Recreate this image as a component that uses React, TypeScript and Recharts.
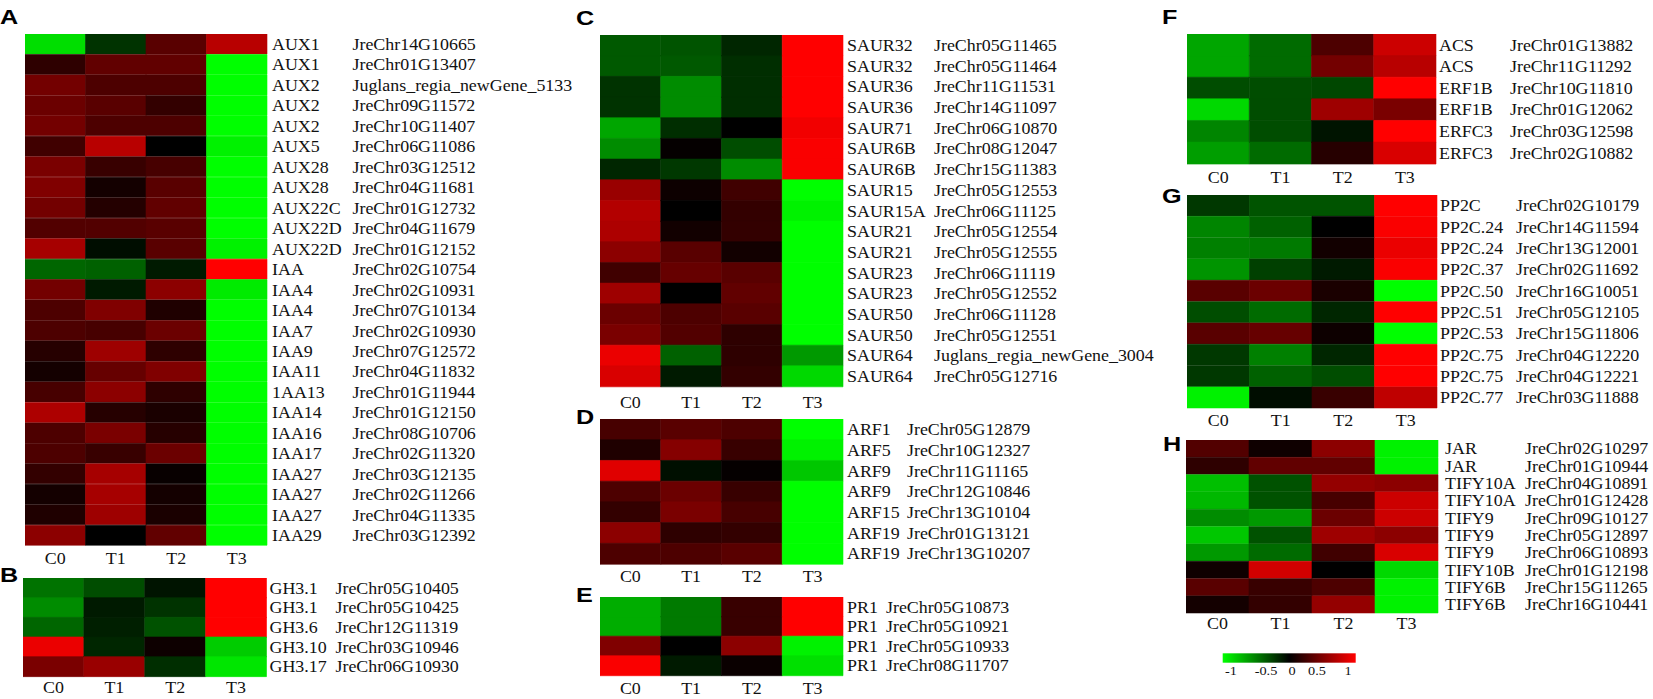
import React from 'react';
import { BarChart, Bar, XAxis, YAxis, Cell } from 'recharts';

const samples = ['C0', 'T1', 'T2', 'T3'];
const legendTicks = ['-1', '-0.5', '0', '0.5', '1'];

// Panel A
const aGenes = ['AUX1','AUX1','AUX2','AUX2','AUX2','AUX5','AUX28','AUX28','AUX22C','AUX22D','AUX22D','IAA','IAA4','IAA4','IAA7','IAA9','IAA11','1AA13','IAA14','IAA16','IAA17','IAA27','IAA27','IAA27','IAA29'];
const aIds = ['JreChr14G10665','JreChr01G13407','Juglans_regia_newGene_5133','JreChr09G11572','JreChr10G11407','JreChr06G11086','JreChr03G12512','JreChr04G11681','JreChr01G12732','JreChr04G11679','JreChr01G12152','JreChr02G10754','JreChr02G10931','JreChr07G10134','JreChr02G10930','JreChr07G12572','JreChr04G11832','JreChr01G11944','JreChr01G12150','JreChr08G10706','JreChr02G11320','JreChr03G12135','JreChr02G11266','JreChr04G11335','JreChr03G12392'];
const aValues = [
  [-0.87,-0.2,0.35,0.72],[0.18,0.38,0.38,-1],[0.45,0.3,0.3,-1],[0.42,0.35,0.2,-1],[0.45,0.3,0.3,-1],
  [0.25,0.72,0.0,-0.95],[0.48,0.22,0.28,-1],[0.5,0.08,0.35,-1],[0.45,0.14,0.38,-1],[0.32,0.32,0.35,-1],
  [0.65,-0.05,0.35,-0.95],[-0.4,-0.38,-0.1,1.0],[0.45,-0.1,0.55,-0.92],[0.3,0.5,0.12,-1],[0.3,0.28,0.42,-1],
  [0.15,0.62,0.18,-1],[0.08,0.4,0.5,-1],[0.28,0.55,0.18,-1],[0.68,0.15,0.1,-1],[0.3,0.48,0.15,-1],
  [0.3,0.22,0.42,-1],[0.2,0.65,0.03,-1],[0.08,0.65,0.08,-1],[0.12,0.62,0.1,-1],[0.55,0.0,0.38,-1],
];

// Panel B
const bGenes = ['GH3.1','GH3.1','GH3.6','GH3.10','GH3.17'];
const bIds = ['JreChr05G10405','JreChr05G10425','JreChr12G11319','JreChr03G10946','JreChr06G10930'];
const bValues = [[-0.45,-0.3,-0.08,1.0],[-0.55,-0.1,-0.2,1.0],[-0.4,-0.12,-0.32,1.0],[0.92,-0.15,0.05,-0.8],[0.48,0.6,-0.18,-0.9]];

// Panel C
const cGenes = ['SAUR32','SAUR32','SAUR36','SAUR36','SAUR71','SAUR6B','SAUR6B','SAUR15','SAUR15A','SAUR21','SAUR21','SAUR23','SAUR23','SAUR50','SAUR50','SAUR64','SAUR64'];
const cIds = ['JreChr05G11465','JreChr05G11464','JreChr11G11531','JreChr14G11097','JreChr06G10870','JreChr08G12047','JreChr15G11383','JreChr05G12553','JreChr06G11125','JreChr05G12554','JreChr05G12555','JreChr06G11119','JreChr05G12552','JreChr06G11128','JreChr05G12551','Juglans_regia_newGene_3004','JreChr05G12716'];
const cValues = [
  [-0.35,-0.33,-0.15,1.0],[-0.35,-0.35,-0.18,1.0],[-0.2,-0.55,-0.18,1.0],[-0.2,-0.55,-0.18,1.0],
  [-0.65,-0.18,0.0,0.95],[-0.55,0.02,-0.3,0.98],[-0.15,-0.22,-0.55,0.98],[0.6,0.05,0.25,-1],
  [0.7,0.0,0.2,-0.95],[0.68,0.07,0.2,-1],[0.55,0.35,0.07,-1],[0.25,0.4,0.35,-1],[0.62,0.0,0.38,-1],
  [0.42,0.3,0.35,-1],[0.48,0.32,0.18,-1],[0.92,-0.38,0.18,-0.6],[0.85,-0.1,0.2,-0.85],
];

// Panel D
const dGenes = ['ARF1','ARF5','ARF9','ARF9','ARF15','ARF19','ARF19'];
const dIds = ['JreChr05G12879','JreChr10G12327','JreChr11G11165','JreChr12G10846','JreChr13G10104','JreChr01G13121','JreChr13G10207'];
const dValues = [[0.28,0.35,0.3,-1],[0.12,0.52,0.22,-0.95],[0.88,-0.06,0.02,-0.78],[0.3,0.42,0.22,-1],[0.2,0.48,0.28,-1],[0.55,0.18,0.2,-1],[0.3,0.3,0.35,-1]];

// Panel E
const eGenes = ['PR1','PR1','PR1','PR1'];
const eIds = ['JreChr05G10873','JreChr05G10921','JreChr05G10933','JreChr08G11707'];
const eValues = [[-0.68,-0.48,0.22,1.0],[-0.68,-0.48,0.22,1.0],[0.5,0.0,0.55,-0.95],[0.98,-0.1,0.04,-0.88]];

// Panel F
const fGenes = ['ACS','ACS','ERF1B','ERF1B','ERFC3','ERFC3'];
const fIds = ['JreChr01G13882','JreChr11G11292','JreChr10G11810','JreChr01G12062','JreChr03G12598','JreChr02G10882'];
const fValues = [[-0.65,-0.42,0.3,0.8],[-0.65,-0.42,0.45,0.72],[-0.3,-0.3,-0.28,1.0],[-0.85,-0.3,0.62,0.48],[-0.52,-0.3,-0.08,1.0],[-0.62,-0.42,0.15,0.85]];

// Panel G
const gGenes = ['PP2C','PP2C.24','PP2C.24','PP2C.37','PP2C.50','PP2C.51','PP2C.53','PP2C.75','PP2C.75','PP2C.77'];
const gIds = ['JreChr02G10179','JreChr14G11594','JreChr13G12001','JreChr02G11692','JreChr16G10051','JreChr05G12105','JreChr15G11806','JreChr04G12220','JreChr04G12221','JreChr03G11888'];
const gValues = [[-0.22,-0.33,-0.33,1.0],[-0.52,-0.38,0.0,0.98],[-0.5,-0.48,0.07,0.92],[-0.58,-0.25,-0.1,0.98],[0.35,0.42,0.1,-1],[-0.3,-0.42,-0.15,1.0],[0.35,0.4,0.05,-1],[-0.22,-0.5,-0.15,1.0],[-0.22,-0.38,-0.3,1.0],[-0.95,-0.05,0.22,0.75]];

// Panel H
const hGenes = ['JAR','JAR','TIFY10A','TIFY10A','TIFY9','TIFY9','TIFY9','TIFY10B','TIFY6B','TIFY6B'];
const hIds = ['JreChr02G10297','JreChr01G10944','JreChr04G10891','JreChr01G12428','JreChr09G10127','JreChr05G12897','JreChr06G10893','JreChr01G12198','JreChr15G11265','JreChr16G10441'];
const hValues = [[0.32,0.06,0.55,-0.95],[0.18,0.38,0.38,-0.95],[-0.75,-0.32,0.58,0.55],[-0.72,-0.32,0.28,0.8],[-0.55,-0.6,0.42,0.8],[-0.78,-0.32,0.62,0.55],[-0.6,-0.42,0.25,0.85],[0.06,0.82,0.0,-0.85],[0.35,0.22,0.3,-0.95],[0.08,0.2,0.58,-0.95]];

const SERIF = '"Liberation Serif", "Times New Roman", serif';
const SANS = '"Liberation Sans", Arial, sans-serif';
const SX = 1.12;

function heat(v: number): string {
  const t = Math.max(-1, Math.min(1, v));
  if (t >= 0) return `rgb(${Math.round(t * 255)},0,0)`;
  return `rgb(0,${Math.round(-t * 255)},0)`;
}

type PanelProps = {
  left: number; top: number; right: number; bottom: number;
  genes: string[]; ids: string[]; values: number[][];
  geneDx: number; idDx: number; labelDy: number; yw: number;
};

function Panel(p: PanelProps) {
  const w = p.right - p.left;
  const h = p.bottom - p.top;
  const xh = 30;
  const data = p.genes.map((g, i) => ({ key: String(i), gene: g, id: p.ids[i], s0: 1, s1: 1, s2: 1, s3: 1 }));
  const yTick = (tp: any) => {
    const i = Number(tp.payload.value);
    const x = tp.x;
    const y = tp.y;
    return (
      <g>
        <g transform={`translate(${x + p.geneDx},${y}) scale(${SX},1)`}>
          <text x={0} y={0} dy="0.36em" fontFamily={SERIF} fontSize={16} fill="#111">{p.genes[i]}</text>
        </g>
        <g transform={`translate(${x + p.idDx},${y}) scale(${SX},1)`}>
          <text x={0} y={0} dy="0.36em" fontFamily={SERIF} fontSize={16} fill="#111">{p.ids[i]}</text>
        </g>
      </g>
    );
  };
  const xTick = (tp: any) => {
    const idx = Math.floor(Number(tp.payload.value));
    return (
      <g transform={`translate(${tp.x},${tp.y + p.labelDy}) scale(${SX},1)`}>
        <text x={0} y={0} dy="0.36em" textAnchor="middle" fontFamily={SERIF} fontSize={16} fill="#111">{samples[idx]}</text>
      </g>
    );
  };
  return (
    <div style={{ position: 'absolute', left: p.left, top: p.top }}>
      <BarChart
        width={w + p.yw}
        height={h + xh}
        data={data}
        layout="vertical"
        margin={{ top: 0, right: 0, bottom: 0, left: 0 }}
        barCategoryGap={0}
        barGap={0}
        style={{ overflow: 'visible' }}
      >
        <XAxis type="number" domain={[0, 4]} ticks={[0.5, 1.5, 2.5, 3.5]} axisLine={false} tickLine={false}
          tickSize={0} tickMargin={0} height={xh} interval={0} tick={xTick} />
        <YAxis type="category" dataKey="key" orientation="right" width={p.yw} axisLine={false} tickLine={false}
          tickSize={0} tickMargin={0} interval={0} tick={yTick} />
        {[0, 1, 2, 3].map((j) => (
          <Bar key={j} dataKey={`s${j}`} stackId="h" isAnimationActive={false}>
            {data.map((d, i) => (
              <Cell key={i} fill={heat(p.values[i][j])} stroke={heat(p.values[i][j])} strokeWidth={0.6} />
            ))}
          </Bar>
        ))}
      </BarChart>
    </div>
  );
}

const letters = [
  { t: 'A', x: 0, y: 24 }, { t: 'B', x: 0, y: 582 },
  { t: 'C', x: 576, y: 25 }, { t: 'D', x: 576, y: 424 }, { t: 'E', x: 576, y: 601.5 },
  { t: 'F', x: 1162, y: 24 }, { t: 'G', x: 1162, y: 203 }, { t: 'H', x: 1163, y: 450.5 },
];
const legendX = [1231, 1266, 1292, 1317, 1348];

export default function App() {
  return (
    <div style={{ position: 'absolute', left: 0, top: 0, width: 1653, height: 699, overflow: 'hidden', background: '#fff' }}>
      <Panel left={25} top={34.3} right={267} bottom={546} genes={aGenes} ids={aIds} values={aValues} geneDx={5} idDx={85.5} labelDy={13} yw={330} />
      <Panel left={22.5} top={577.7} right={266} bottom={676} genes={bGenes} ids={bIds} values={bValues} geneDx={3} idDx={69} labelDy={11} yw={240} />
      <Panel left={600} top={34.5} right={843} bottom={386} genes={cGenes} ids={cIds} values={cValues} geneDx={4} idDx={91} labelDy={15.5} yw={345} />
      <Panel left={600} top={419.3} right={843} bottom={564.3} genes={dGenes} ids={dIds} values={dValues} geneDx={4} idDx={64} labelDy={12.4} yw={240} />
      <Panel left={600} top={596.7} right={843} bottom={675} genes={eGenes} ids={eIds} values={eValues} geneDx={4} idDx={43} labelDy={13} yw={240} />
      <Panel left={1187} top={34.3} right={1436} bottom={164} genes={fGenes} ids={fIds} values={fValues} geneDx={3} idDx={74} labelDy={14} yw={216} />
      <Panel left={1187} top={195} right={1437} bottom={408.3} genes={gGenes} ids={gIds} values={gValues} geneDx={3} idDx={79} labelDy={12} yw={215} />
      <Panel left={1186} top={440} right={1438} bottom={613.3} genes={hGenes} ids={hIds} values={hValues} geneDx={7} idDx={87} labelDy={10} yw={214} />
      <svg width={1653} height={699} style={{ position: 'absolute', left: 0, top: 0, pointerEvents: 'none' }}>
        <defs>
          <linearGradient id="heatGrad" x1="0" x2="1" y1="0" y2="0">
            <stop offset="0" stopColor="#00ff00" />
            <stop offset="0.5" stopColor="#000000" />
            <stop offset="1" stopColor="#ff0000" />
          </linearGradient>
        </defs>
        {letters.map((l) => (
          <g key={l.t} transform={`translate(${l.x},${l.y}) scale(1.2,1)`}>
            <text x={0} y={0} fontFamily={SANS} fontWeight="bold" fontSize={21} fill="#000">{l.t}</text>
          </g>
        ))}
        <rect x={1222.7} y={653.3} width={133} height={9.4} fill="url(#heatGrad)" />
        {legendTicks.map((t, i) => (
          <g key={t} transform={`translate(${legendX[i]},${670}) scale(1.1,1)`}>
            <text x={0} y={0} dy="0.36em" textAnchor="middle" fontFamily={SERIF} fontSize={13} fill="#111">{t}</text>
          </g>
        ))}
      </svg>
    </div>
  );
}
